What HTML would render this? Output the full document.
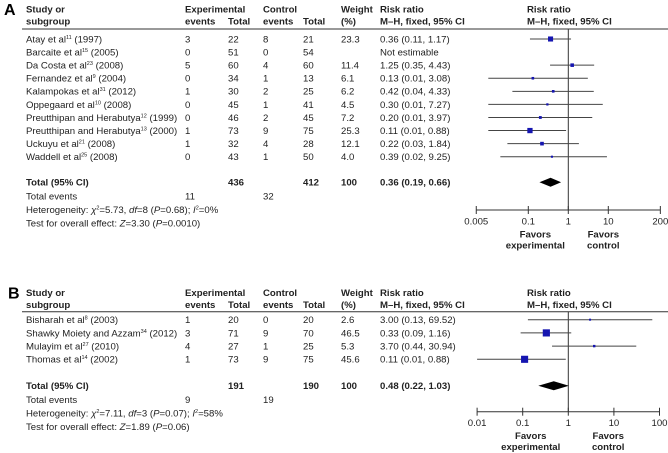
<!DOCTYPE html>
<html><head><meta charset="utf-8">
<style>
html,body{margin:0;padding:0;background:#fff;}
svg{display:block;font-family:"Liberation Sans",Arial,sans-serif;}
text{font-size:9.6px;fill:#222;}
.b{font-weight:bold;}
</style></head>
<body>
<svg id="chart" width="668" height="453" viewBox="0 0 668 453" xmlns="http://www.w3.org/2000/svg"></svg>
<script>
// Panel A data
const studiesA = ["Atay et al|11| (1997)","Barcaite et al|15| (2005)","Da Costa et al|23| (2008)","Fernandez et al|9| (2004)","Kalampokas et al|31| (2012)","Oppegaard et al|10| (2008)","Preutthipan and Herabutya|12| (1999)","Preutthipan and Herabutya|13| (2000)","Uckuyu et al|21| (2008)","Waddell et al|25| (2008)"];
const expEventsA = [3,0,5,0,1,0,0,1,1,0];
const expTotalA = [22,51,60,34,30,45,46,73,32,43];
const ctlEventsA = [8,0,4,1,2,1,2,9,4,1];
const ctlTotalA = [21,54,60,13,25,41,45,75,28,50];
const weightA = [23.3,null,11.4,6.1,6.2,4.5,7.2,25.3,12.1,4.0];
const rrA = [0.36,null,1.25,0.13,0.42,0.30,0.20,0.11,0.22,0.39];
const loA = [0.11,null,0.35,0.01,0.04,0.01,0.01,0.01,0.03,0.02];
const hiA = [1.17,null,4.43,3.08,4.33,7.27,3.97,0.88,1.84,9.25];
const totalA = {exp:436, ctl:412, expEv:11, ctlEv:32, rr:0.36, lo:0.19, hi:0.66};
const ticksA = [0.005,0.1,1,10,200];
// Panel B data
const studiesB = ["Bisharah et al|8| (2003)","Shawky Moiety and Azzam|34| (2012)","Mulayim et al|27| (2010)","Thomas et al|14| (2002)"];
const expEventsB = [1,3,4,1];
const expTotalB = [20,71,27,73];
const ctlEventsB = [0,9,1,9];
const ctlTotalB = [20,70,25,75];
const weightB = [2.6,46.5,5.3,45.6];
const rrB = [3.00,0.33,3.70,0.11];
const loB = [0.13,0.09,0.44,0.01];
const hiB = [69.52,1.16,30.94,0.88];
const totalB = {exp:191, ctl:190, expEv:9, ctlEv:19, rr:0.48, lo:0.22, hi:1.03};
const ticksB = [0.01,0.1,1,10,100];

const svg = document.getElementById('chart');
const NS = 'http://www.w3.org/2000/svg';
function el(tag, attrs, parent){
  const e = document.createElementNS(NS, tag);
  for (const k in attrs) e.setAttribute(k, attrs[k]);
  (parent||svg).appendChild(e);
  return e;
}
function txt(x,y,s,name,cls,anchor,parent){
  const t = el('text',{x:x,y:y+3.4},parent);
  if(cls) t.setAttribute('class',cls);
  if(anchor) t.setAttribute('text-anchor',anchor);
  
  
  const parts = String(s).split('|');
  parts.forEach((p,i)=>{
    const ts = document.createElementNS(NS,'tspan');
    ts.textContent = p;
    if(i%2===1){ ts.setAttribute('font-size','5.5'); ts.setAttribute('dy','-3.5'); }
    else if(i>0){ ts.setAttribute('dy','3.5'); }
    t.appendChild(ts);
  });
  return t;
}
function fmt(v){return v.toFixed(2);}

function panel(cfg){
  const g = el('g',{});
  
  
  const X = v => cfg.cx + Math.log10(v)*cfg.dec;
  // label
  const L = el('text',{x:cfg.lx,y:cfg.h1+6,'font-size':'16','font-weight':'bold'},g);
  L.style.fontSize='16px'; L.style.fill='#000';
  L.textContent = cfg.letter;
  
  
  // headers
  const h1=cfg.h1, h2=cfg.h1+12;
  txt(26,h1,'Study or','header-study','b',null,g);
  txt(26,h2,'subgroup','header-subgroup','b',null,g);
  txt(185,h1,'Experimental','header-experimental','b',null,g);
  txt(185,h2,'events','header-exp-events','b',null,g);
  txt(228,h2,'Total','header-exp-total','b',null,g);
  txt(263,h1,'Control','header-control','b',null,g);
  txt(263,h2,'events','header-ctl-events','b',null,g);
  txt(303,h2,'Total','header-ctl-total','b',null,g);
  txt(341,h1,'Weight','header-weight','b',null,g);
  txt(341,h2,'(%)','header-weight-pct','b',null,g);
  txt(380,h1,'Risk ratio','header-risk-ratio','b',null,g);
  txt(380,h2,'M–H, fixed, 95% CI','header-method','b',null,g);
  txt(527,h1,'Risk ratio','header-plot-risk-ratio','b',null,g);
  txt(527,h2,'M–H, fixed, 95% CI','header-plot-method','b',null,g);
  const sep = el('line',{x1:22,x2:668,y1:cfg.sep,y2:cfg.sep,stroke:'#333','stroke-width':1},g);
  
  
  // null line
  const nl = el('line',{x1:X(1),x2:X(1),y1:cfg.sep,y2:cfg.axisY,stroke:'#333','stroke-width':1},g);
  
  
  cfg.studies.forEach((s,i)=>{
    const y = cfg.row0 + i*cfg.step;
    txt(26,y,s,'study-name',null,null,g);
    txt(185,y,cfg.ee[i],'exp-events',null,null,g);
    txt(228,y,cfg.et[i],'exp-total',null,null,g);
    txt(263,y,cfg.ce[i],'ctl-events',null,null,g);
    txt(303,y,cfg.ct[i],'ctl-total',null,null,g);
    if(cfg.w[i]==null){
      txt(380,y,'Not estimable','risk-ratio-value',null,null,g);
      return;
    }
    txt(341,y,cfg.w[i].toFixed(1),'weight-value',null,null,g);
    txt(380,y,fmt(cfg.rr[i])+' ('+fmt(cfg.lo[i])+', '+fmt(cfg.hi[i])+')','risk-ratio-value',null,null,g);
    const ci = el('line',{x1:X(cfg.lo[i]),x2:X(cfg.hi[i]),y1:y,y2:y,stroke:'#444','stroke-width':1},g);
    
    
    const sz = Math.max(2, Math.sqrt(cfg.w[i])*1.05);
    const sq = el('rect',{x:X(cfg.rr[i])-sz/2,y:y-sz/2,width:sz,height:sz,fill:'#1515b0'},g);
    
    
  });
  const T = cfg.total, ty = cfg.totY;
  txt(26,ty,'Total (95% CI)','total-label','b',null,g);
  txt(228,ty,T.exp,'total-exp','b',null,g);
  txt(303,ty,T.ctl,'total-ctl','b',null,g);
  txt(341,ty,'100','total-weight','b',null,g);
  txt(380,ty,fmt(T.rr)+' ('+fmt(T.lo)+', '+fmt(T.hi)+')','total-risk-ratio','b',null,g);
  const d = el('polygon',{points:`${X(T.lo)},${ty} ${X(T.rr)},${ty-4.5} ${X(T.hi)},${ty} ${X(T.rr)},${ty+4.5}`,fill:'#000'},g);
  
  
  txt(26,ty+14,'Total events','total-events-label',null,null,g);
  txt(185,ty+14,T.expEv,'total-exp-events',null,null,g);
  txt(263,ty+14,T.ctlEv,'total-ctl-events',null,null,g);
  const het = txt(26,ty+27.5,'','heterogeneity-text',null,null,g);
  het.innerHTML = cfg.het;
  const ov = txt(26,ty+41,'','overall-effect-text',null,null,g);
  ov.innerHTML = cfg.ov;
  // axis
  const ax = el('line',{x1:X(cfg.ticks[0]),x2:X(cfg.ticks[cfg.ticks.length-1]),y1:cfg.axisY,y2:cfg.axisY,stroke:'#333','stroke-width':1},g);
  
  
  cfg.ticks.forEach(t=>{
    const tk = el('line',{x1:X(t),x2:X(t),y1:cfg.axisY-4,y2:cfg.axisY+4,stroke:'#333','stroke-width':1},g);
    
    
    txt(X(t),cfg.axisY+11,String(t),'x-tick-label',null,'middle',g);
  });
  txt(X(0.15),cfg.axisY+24,'Favors','favors-experimental','b','middle',g);
  txt(X(0.15),cfg.axisY+35,'experimental','favors-experimental-2','b','middle',g);
  txt(X(7.5),cfg.axisY+24,'Favors','favors-control','b','middle',g);
  txt(X(7.5),cfg.axisY+35,'control','favors-control-2','b','middle',g);
}

panel({name:'panel-a',letter:'A',lx:4,h1:9,sep:29,row0:39,step:13.08,totY:182.3,axisY:210,cx:568.3,dec:40,
  studies:studiesA,ee:expEventsA,et:expTotalA,ce:ctlEventsA,ct:ctlTotalA,w:weightA,rr:rrA,lo:loA,hi:hiA,total:totalA,ticks:ticksA,
  het:'Heterogeneity: <tspan font-style="italic">χ</tspan><tspan font-size="5.5" dy="-3.5">2</tspan><tspan dy="3.5">=5.73, </tspan><tspan font-style="italic">df</tspan>=8 (<tspan font-style="italic">P</tspan>=0.68); <tspan font-style="italic">I</tspan><tspan font-size="5.5" dy="-3.5">2</tspan><tspan dy="3.5">=0%</tspan>',
  ov:'Test for overall effect: <tspan font-style="italic">Z</tspan>=3.30 (<tspan font-style="italic">P</tspan>=0.0010)'});
panel({name:'panel-b',letter:'B',lx:8,h1:292.5,sep:311.7,row0:319.7,step:13.2,totY:385.7,axisY:411.7,cx:568.3,dec:45.6,
  studies:studiesB,ee:expEventsB,et:expTotalB,ce:ctlEventsB,ct:ctlTotalB,w:weightB,rr:rrB,lo:loB,hi:hiB,total:totalB,ticks:ticksB,
  het:'Heterogeneity: <tspan font-style="italic">χ</tspan><tspan font-size="5.5" dy="-3.5">2</tspan><tspan dy="3.5">=7.11, </tspan><tspan font-style="italic">df</tspan>=3 (<tspan font-style="italic">P</tspan>=0.07); <tspan font-style="italic">I</tspan><tspan font-size="5.5" dy="-3.5">2</tspan><tspan dy="3.5">=58%</tspan>',
  ov:'Test for overall effect: <tspan font-style="italic">Z</tspan>=1.89 (<tspan font-style="italic">P</tspan>=0.06)'});
</script>
</body></html>
